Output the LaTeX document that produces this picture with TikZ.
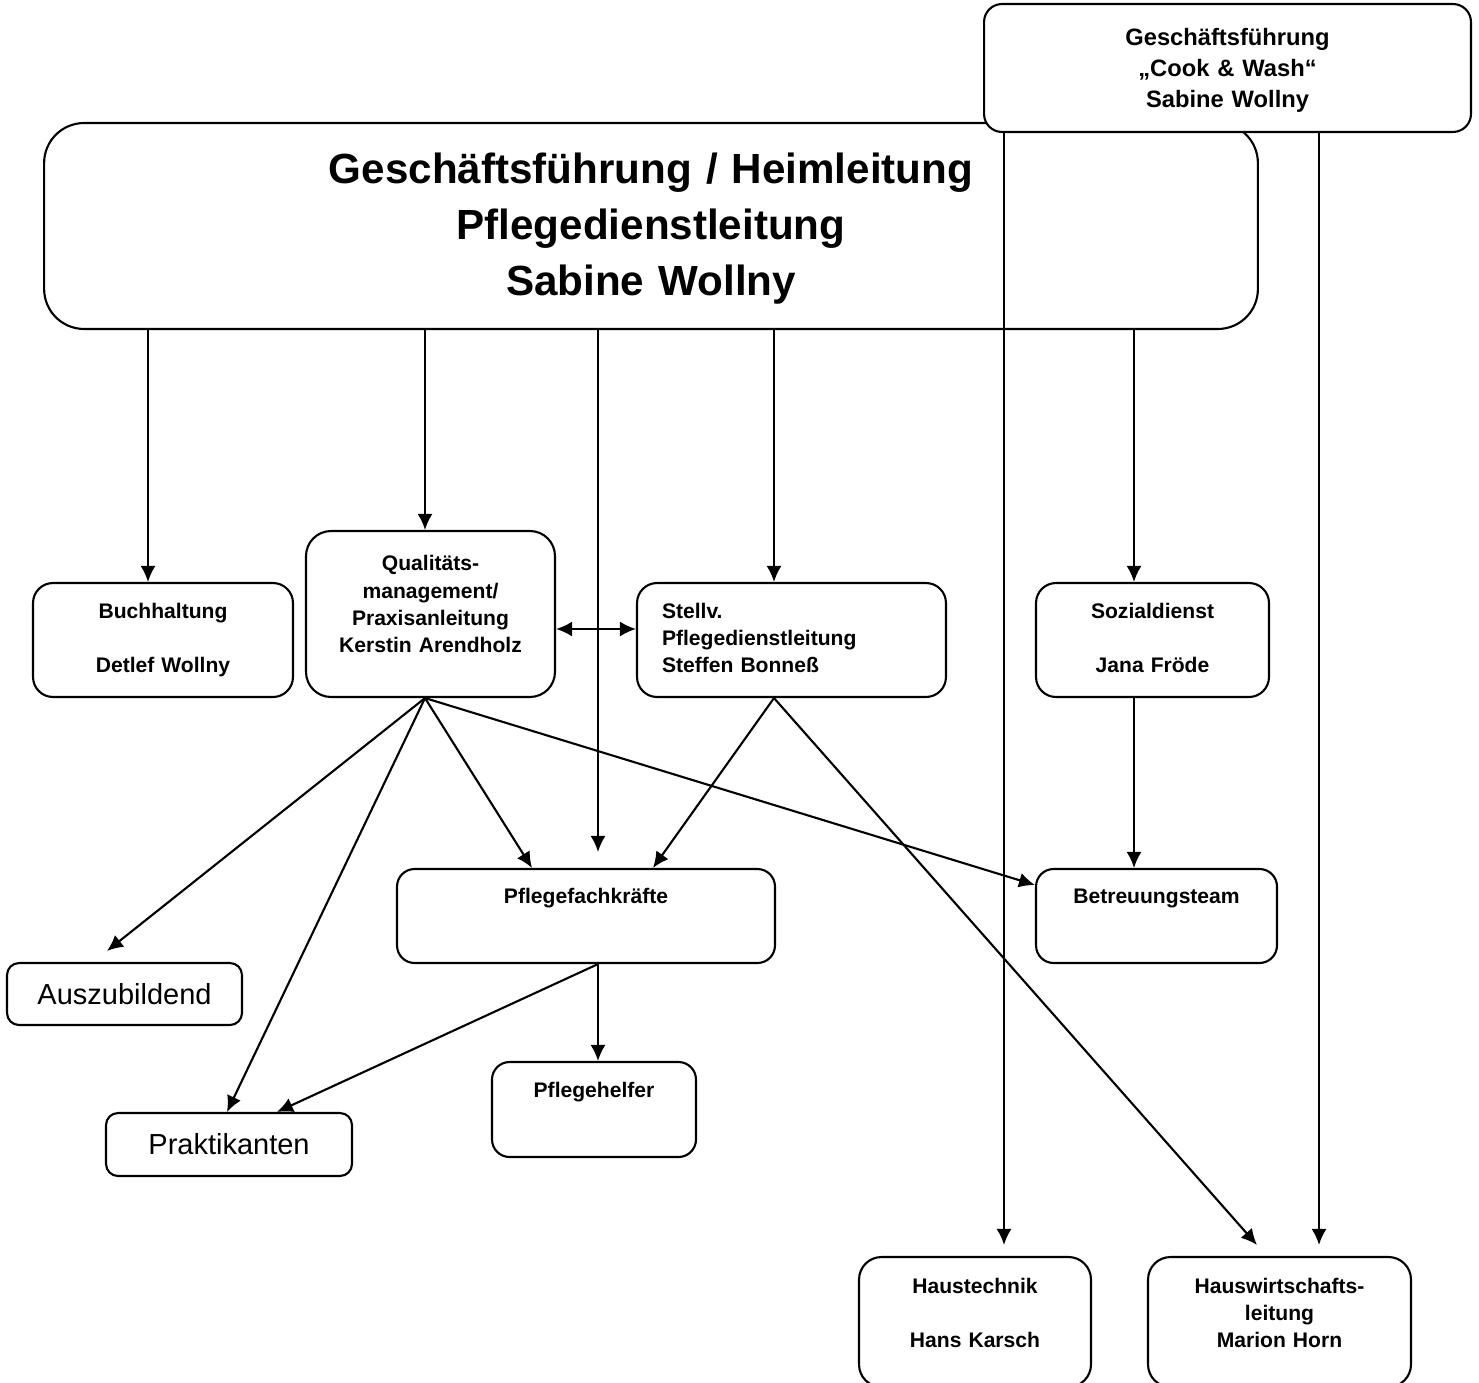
\documentclass[tikz,border=0pt]{standalone}
\usepackage{fontspec}
\setmainfont{Liberation Sans}
\usetikzlibrary{arrows.meta,calc}

\begin{document}
\begin{tikzpicture}[x=0.02cm,y=-0.02cm,line width=1.2pt,
  >={Latex[length=0.32cm,width=0.3cm]},
  box/.style={draw,fill=white,rounded corners=0.4cm,inner sep=0pt,align=center,
    font=\bfseries\fontsize{12pt}{15.6pt}\selectfont,text height=9pt},
  bigbox/.style={box,rounded corners=0.8cm,
    font=\bfseries\fontsize{24pt}{32.1pt}\selectfont,text height=17.5pt},
  topbox/.style={box,rounded corners=0.36cm,
    font=\bfseries\fontsize{13.5pt}{17.6pt}\selectfont,text height=10pt},
  flatbox/.style={box,rounded corners=0.24cm,
    font=\fontsize{16.5pt}{19.8pt}\selectfont,text height=11.8pt,text depth=0pt}]
\useasboundingbox (0,0) rectangle (1479,1382);

\node[bigbox,text width=24.28cm,minimum height=4.12cm,text depth=66.4pt] (gf) at (651,226)
  {Geschäftsführung / Heimleitung\\Pflegedienstleitung\\Sabine Wollny};
\node[topbox,text width=9.74cm,minimum height=2.56cm,text depth=35.9pt] (cook) at (1227.5,68)
  {Geschäftsführung\\„Cook \& Wash“\\Sabine Wollny};

\node[box,text width=5.2cm,minimum height=2.28cm,text depth=34pt] (buch) at (163,640)
  {Buchhaltung\\[\baselineskip]Detlef Wollny};
\node[box,rounded corners=0.5cm,text width=4.98cm,minimum height=3.32cm,text depth=58.3pt] (qm) at (430.5,614)
  {Qualitäts-\\management/\\Praxisanleitung\\Kerstin Arendholz};
\node[box,align=left,inner xsep=0.5cm,text width=5.18cm,minimum height=2.28cm,text depth=34pt] (stv) at (791.5,640)
  {Stellv.\\Pflegedienstleitung\\Steffen Bonneß};
\node[box,text width=4.66cm,minimum height=2.28cm,text depth=34pt] (sozial) at (1152.5,640)
  {Sozialdienst\\[\baselineskip]Jana Fröde};

\node[box,rounded corners=0.35cm,text width=7.56cm,minimum height=1.88cm,text depth=23.8pt] (pfk) at (586,916)
  {Pflegefachkräfte};
\node[box,rounded corners=0.35cm,text width=4.82cm,minimum height=1.88cm,text depth=23.8pt] (betr) at (1156.5,916)
  {Betreuungsteam};
\node[flatbox,text width=4.7cm,minimum height=1.24cm] (azubi) at (124.5,994) {Auszubildend};
\node[flatbox,text width=4.92cm,minimum height=1.26cm] (prakt) at (229,1144.5) {Praktikanten};
\node[box,rounded corners=0.35cm,text width=4.08cm,minimum height=1.9cm,text depth=23.2pt] (helfer) at (594,1109.5)
  {Pflegehelfer};

\node[box,rounded corners=0.45cm,text width=4.64cm,minimum height=2.6cm,text depth=42pt] (technik) at (975,1322)
  {Haustechnik\\[\baselineskip]Hans Karsch};
\node[box,rounded corners=0.45cm,text width=5.26cm,minimum height=2.6cm,text depth=42pt] (hw) at (1279.5,1322)
  {Hauswirtschafts-\\leitung\\Marion Horn};

\draw[->] (148,0 |- gf.south) -- (148,0 |- buch.north);
\draw[->] (425,0 |- gf.south) -- (425,0 |- qm.north);
\draw[->,shorten >=0.32cm] (598,0 |- gf.south) -- (598,0 |- pfk.north);
\draw[->] (774,0 |- gf.south) -- (774,0 |- stv.north);
\draw[->] (1134,0 |- gf.south) -- (1134,0 |- sozial.north);
\draw[->,shorten >=0.22cm] (1004,0 |- cook.south) -- (1004,0 |- technik.north);
\draw[->,shorten >=0.22cm] (1319,0 |- cook.south) -- (1319,0 |- hw.north);
\draw[<->] (qm.east |- 0,629) -- (stv.west |- 0,629);

\draw[->] (425,0 |- qm.south) -- ($(107,0 |- azubi.north)+(0,-11)$);
\draw[->] (425,0 |- qm.south) -- (227,0 |- prakt.north);
\draw[->] (425,0 |- qm.south) -- (532,0 |- pfk.north);
\draw[->] (425,0 |- qm.south) -- (betr.west |- 0,885);
\draw[->] (774,0 |- stv.south) -- (653,0 |- pfk.north);
\draw[->] (774,0 |- stv.south) -- ($(1257,0 |- hw.north)+(0,-11)$);
\draw[->] (1134,0 |- sozial.south) -- (1134,0 |- betr.north);
\draw[->] (598,0 |- pfk.south) -- (598,0 |- helfer.north);
\draw[->] (598,0 |- pfk.south) -- (277,0 |- prakt.north);
\end{tikzpicture}
\end{document}
